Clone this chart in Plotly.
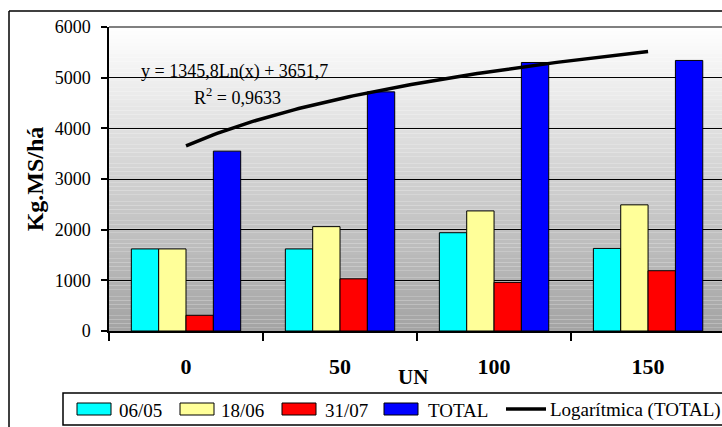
import numpy as np
import plotly.graph_objects as go

# Dose de N (kg/ha) e produção de matéria seca por corte
categorias = ["0", "50", "100", "150"]
series_nomes = ["06/05", "18/06", "31/07", "TOTAL"]
corte_0605 = [1620, 1620, 1940, 1630]
corte_1806 = [1620, 2060, 2370, 2490]
corte_3107 = [310, 1030, 960, 1190]
total = [3550, 4720, 5300, 5340]
cores = ["#00ffff", "#ffff99", "#ff0000", "#0000ff"]

# Linha de tendência logarítmica ajustada ao TOTAL
coef_a = 1345.8
coef_b = 3651.7
r2 = 0.9633
nome_tendencia = "Logarítmica (TOTAL)"
eixo_y_ticks = [0, 1000, 2000, 3000, 4000, 5000, 6000]

W, H = 722, 427
ML, MR, MT, MB = 109, 0, 27, 96
PW = W - ML - MR
PH = H - MT - MB


def px(xp):
    return (xp - ML) / PW


def py(yp):
    return (H - MB - yp) / PH


SERIF = "Liberation Serif, Times New Roman, serif"

fig = go.Figure()
for nome, vals, cor in zip(series_nomes, [corte_0605, corte_1806, corte_3107, total], cores):
    fig.add_trace(go.Bar(
        x=categorias, y=vals, name=nome,
        marker=dict(color=cor, line=dict(color="black", width=1)),
        showlegend=False,
    ))

xt = np.linspace(1, len(categorias), 120)
fig.add_trace(go.Scatter(
    x=xt, y=coef_a * np.log(xt) + coef_b, xaxis="x2", mode="lines",
    line=dict(color="black", width=3.5), name=nome_tendencia, showlegend=False,
))

shapes = []
# fundo em degradê da área de plotagem
n = 80
for i in range(n):
    f = (i + 0.5) / n
    v = int(round(255 - 92 * f))
    shapes.append(dict(type="rect", xref="paper", yref="paper", x0=0, x1=1,
                       y0=1 - (i + 1) / n, y1=1 - i / n, layer="below",
                       line=dict(width=0), fillcolor=f"rgb({v},{v},{v})"))
# borda superior cinza
shapes.append(dict(type="line", xref="paper", yref="paper", x0=0, x1=1, y0=1, y1=1,
                   line=dict(color="#808080", width=2)))
# moldura do gráfico
shapes.append(dict(type="line", xref="paper", yref="paper", x0=px(9), x1=px(9),
                   y0=py(11), y1=py(440), line=dict(color="black", width=1.5)))
shapes.append(dict(type="line", xref="paper", yref="paper", x0=px(9), x1=px(740),
                   y0=py(11), y1=py(11), line=dict(color="black", width=1.5)))

# legenda
shapes.append(dict(type="rect", xref="paper", yref="paper", x0=px(63), x1=px(760),
                   y0=py(393), y1=py(425), fillcolor="white",
                   line=dict(color="black", width=1.5)))
leg_sw = [77, 180, 282, 384]
leg_tx = [117, 219, 323, 426]
annotations = []
for sx, tx, cor, nome in zip(leg_sw, leg_tx, cores, series_nomes):
    shapes.append(dict(type="rect", xref="paper", yref="paper", x0=px(sx), x1=px(sx + 34),
                       y0=py(415), y1=py(403), fillcolor=cor,
                       line=dict(color="black", width=1)))
    annotations.append(dict(xref="paper", yref="paper", x=px(tx), y=py(410), text=nome,
                            showarrow=False, xanchor="left", yanchor="middle",
                            font=dict(family=SERIF, size=19, color="black")))
shapes.append(dict(type="line", xref="paper", yref="paper", x0=px(506), x1=px(546),
                   y0=py(409), y1=py(409), line=dict(color="black", width=3.5)))
annotations.append(dict(xref="paper", yref="paper", x=px(548), y=py(410), text=nome_tendencia,
                        showarrow=False, xanchor="left", yanchor="middle",
                        font=dict(family=SERIF, size=19, color="black")))

# equação e R²
annotations.append(dict(xref="paper", yref="paper", x=px(139), y=py(71),
                        text=f"y = {coef_a:.1f}Ln(x) + {coef_b:.1f}".replace(".", ","),
                        showarrow=False, xanchor="left", yanchor="middle",
                        font=dict(family=SERIF, size=18, color="black")))
annotations.append(dict(xref="paper", yref="paper", x=px(192), y=py(96),
                        text=f"R<sup>2</sup> = {r2:.4f}".replace(".", ","),
                        showarrow=False, xanchor="left", yanchor="middle",
                        font=dict(family=SERIF, size=18, color="black")))
# título do eixo x
annotations.append(dict(xref="paper", yref="paper", x=px(413), y=py(377), text="<b>UN</b>",
                        showarrow=False, xanchor="center", yanchor="middle",
                        font=dict(family=SERIF, size=21, color="black")))

fig.update_layout(
    width=W, height=H,
    margin=dict(l=ML, r=MR, t=MT, b=MB),
    paper_bgcolor="white", plot_bgcolor="rgba(0,0,0,0)",
    barmode="group", bargap=0.29, bargroupgap=0,
    shapes=shapes, annotations=annotations,
    showlegend=False,
    xaxis=dict(type="category", range=[-0.5, 3.48], showline=True, linecolor="black",
               linewidth=1.5, ticks="outside", ticklen=8, tickcolor="black", tickwidth=1.5,
               tickson="boundaries", showgrid=False, zeroline=False,
               tickfont=dict(family=SERIF, size=22, color="black"),
               ticklabelstandoff=15,
               tickvals=categorias, ticktext=[f"<b>{c}</b>" for c in categorias]),
    xaxis2=dict(overlaying="x", range=[0.5, 4.48], visible=False),
    yaxis=dict(range=[0, 6000], tickvals=eixo_y_ticks, showline=True, linecolor="black",
               linewidth=1.5, ticks="outside", ticklen=6, tickcolor="black", tickwidth=1.5,
               showgrid=True, gridcolor="black", gridwidth=1, zeroline=False,
               ticklabelstandoff=7,
               tickfont=dict(family=SERIF, size=18, color="black"),
               title=dict(text="<b>Kg.MS/há</b>", standoff=4,
                          font=dict(family=SERIF, size=24, color="black"))),
)

fig.write_html("out.html")
